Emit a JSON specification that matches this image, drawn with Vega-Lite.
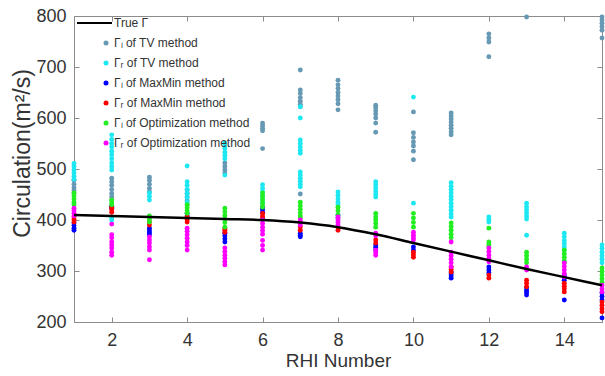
{
  "$schema": "https://vega.github.io/schema/vega-lite/v6.json",
  "width": 528,
  "height": 306,
  "autosize": {"type": "none"},
  "padding": {"left": 74, "top": 16, "right": 3, "bottom": 54},
  "config": {
    "view": {"stroke": "#8c8c8c", "strokeWidth": 1},
    "font": "Liberation Sans",
    "axis": {"grid": false, "domainColor": "#8c8c8c", "tickColor": "#8c8c8c", "labelColor": "#333333", "titleColor": "#333333", "labelFont": "Liberation Sans", "titleFont": "Liberation Sans", "titleFontWeight": "normal"},
    "legend": {"orient": "none", "legendX": 26, "legendY": 1, "title": null, "padding": 0, "labelFontSize": 12, "labelFont": "Liberation Sans", "labelColor": "#333333", "rowPadding": 8, "symbolSize": 25, "labelOffset": 2, "symbolStrokeWidth": 0}
  },
  "resolve": {"axis": {"x": "independent", "y": "independent"}},
  "layer": [
    {
      "data": {"values": [
        {"x":1,"s":"TVL","v":478},{"x":1,"s":"TVL","v":470},{"x":1,"s":"TVL","v":463},{"x":1,"s":"TVL","v":458},{"x":1,"s":"TVL","v":453},
        {"x":2,"s":"TVL","v":482},{"x":2,"s":"TVL","v":475},{"x":2,"s":"TVL","v":468},{"x":2,"s":"TVL","v":460},{"x":2,"s":"TVL","v":452},{"x":2,"s":"TVL","v":445},{"x":2,"s":"TVL","v":439},
        {"x":3,"s":"TVL","v":484},{"x":3,"s":"TVL","v":478},{"x":3,"s":"TVL","v":470},{"x":3,"s":"TVL","v":462},{"x":3,"s":"TVL","v":455},
        {"x":4,"s":"TVL","v":459},{"x":4,"s":"TVL","v":452},{"x":4,"s":"TVL","v":445},{"x":4,"s":"TVL","v":438},{"x":4,"s":"TVL","v":430},
        {"x":5,"s":"TVL","v":512},{"x":5,"s":"TVL","v":505},{"x":5,"s":"TVL","v":498},{"x":5,"s":"TVL","v":492},
        {"x":6,"s":"TVL","v":590},{"x":6,"s":"TVL","v":585},{"x":6,"s":"TVL","v":580},{"x":6,"s":"TVL","v":575},{"x":6,"s":"TVL","v":540},
        {"x":7,"s":"TVL","v":694},{"x":7,"s":"TVL","v":655},{"x":7,"s":"TVL","v":648},{"x":7,"s":"TVL","v":640},{"x":7,"s":"TVL","v":633},{"x":7,"s":"TVL","v":627},{"x":7,"s":"TVL","v":622},{"x":7,"s":"TVL","v":451},
        {"x":8,"s":"TVL","v":674},{"x":8,"s":"TVL","v":665},{"x":8,"s":"TVL","v":658},{"x":8,"s":"TVL","v":650},{"x":8,"s":"TVL","v":643},{"x":8,"s":"TVL","v":636},{"x":8,"s":"TVL","v":628},{"x":8,"s":"TVL","v":616},
        {"x":9,"s":"TVL","v":625},{"x":9,"s":"TVL","v":620},{"x":9,"s":"TVL","v":614},{"x":9,"s":"TVL","v":608},{"x":9,"s":"TVL","v":600},{"x":9,"s":"TVL","v":590},{"x":9,"s":"TVL","v":572},
        {"x":10,"s":"TVL","v":612},{"x":10,"s":"TVL","v":571},{"x":10,"s":"TVL","v":562},{"x":10,"s":"TVL","v":553},{"x":10,"s":"TVL","v":545},{"x":10,"s":"TVL","v":535},{"x":10,"s":"TVL","v":518},
        {"x":11,"s":"TVL","v":610},{"x":11,"s":"TVL","v":604},{"x":11,"s":"TVL","v":598},{"x":11,"s":"TVL","v":592},{"x":11,"s":"TVL","v":586},{"x":11,"s":"TVL","v":580},{"x":11,"s":"TVL","v":573},{"x":11,"s":"TVL","v":567},
        {"x":12,"s":"TVL","v":765},{"x":12,"s":"TVL","v":757},{"x":12,"s":"TVL","v":749},{"x":12,"s":"TVL","v":720},
        {"x":13,"s":"TVL","v":798},
        {"x":15,"s":"TVL","v":798},{"x":15,"s":"TVL","v":792},{"x":15,"s":"TVL","v":786},{"x":15,"s":"TVL","v":779},{"x":15,"s":"TVL","v":772},{"x":15,"s":"TVL","v":757},

        {"x":1,"s":"TVR","v":511},{"x":1,"s":"TVR","v":505},{"x":1,"s":"TVR","v":498},{"x":1,"s":"TVR","v":492},{"x":1,"s":"TVR","v":486},{"x":1,"s":"TVR","v":480},
        {"x":2,"s":"TVR","v":567},{"x":2,"s":"TVR","v":558},{"x":2,"s":"TVR","v":550},{"x":2,"s":"TVR","v":543},{"x":2,"s":"TVR","v":535},{"x":2,"s":"TVR","v":528},{"x":2,"s":"TVR","v":520},{"x":2,"s":"TVR","v":512},{"x":2,"s":"TVR","v":505},{"x":2,"s":"TVR","v":498},{"x":2,"s":"TVR","v":405},{"x":2,"s":"TVR","v":400},
        {"x":3,"s":"TVR","v":453},{"x":3,"s":"TVR","v":446},{"x":3,"s":"TVR","v":439},
        {"x":4,"s":"TVR","v":506},{"x":4,"s":"TVR","v":475},{"x":4,"s":"TVR","v":468},{"x":4,"s":"TVR","v":460},{"x":4,"s":"TVR","v":452},{"x":4,"s":"TVR","v":444},{"x":4,"s":"TVR","v":435},
        {"x":5,"s":"TVR","v":551},{"x":5,"s":"TVR","v":545},{"x":5,"s":"TVR","v":540},{"x":5,"s":"TVR","v":533},{"x":5,"s":"TVR","v":527},{"x":5,"s":"TVR","v":520},{"x":5,"s":"TVR","v":488},
        {"x":6,"s":"TVR","v":469},{"x":6,"s":"TVR","v":462},{"x":6,"s":"TVR","v":455},{"x":6,"s":"TVR","v":448},{"x":6,"s":"TVR","v":441},{"x":6,"s":"TVR","v":435},
        {"x":7,"s":"TVR","v":622},{"x":7,"s":"TVR","v":600},{"x":7,"s":"TVR","v":557},{"x":7,"s":"TVR","v":550},{"x":7,"s":"TVR","v":543},{"x":7,"s":"TVR","v":537},{"x":7,"s":"TVR","v":531},{"x":7,"s":"TVR","v":494},{"x":7,"s":"TVR","v":488},{"x":7,"s":"TVR","v":482},{"x":7,"s":"TVR","v":476},{"x":7,"s":"TVR","v":470},{"x":7,"s":"TVR","v":465},
        {"x":8,"s":"TVR","v":455},{"x":8,"s":"TVR","v":448},{"x":8,"s":"TVR","v":441},{"x":8,"s":"TVR","v":435},{"x":8,"s":"TVR","v":430},
        {"x":9,"s":"TVR","v":475},{"x":9,"s":"TVR","v":469},{"x":9,"s":"TVR","v":463},{"x":9,"s":"TVR","v":457},{"x":9,"s":"TVR","v":451},{"x":9,"s":"TVR","v":445},
        {"x":10,"s":"TVR","v":641},{"x":10,"s":"TVR","v":433},
        {"x":11,"s":"TVR","v":473},{"x":11,"s":"TVR","v":466},{"x":11,"s":"TVR","v":460},{"x":11,"s":"TVR","v":453},{"x":11,"s":"TVR","v":446},{"x":11,"s":"TVR","v":440},{"x":11,"s":"TVR","v":433},{"x":11,"s":"TVR","v":426},{"x":11,"s":"TVR","v":419},{"x":11,"s":"TVR","v":412},{"x":11,"s":"TVR","v":406},
        {"x":12,"s":"TVR","v":406},{"x":12,"s":"TVR","v":401},{"x":12,"s":"TVR","v":396},
        {"x":13,"s":"TVR","v":433},{"x":13,"s":"TVR","v":426},{"x":13,"s":"TVR","v":420},{"x":13,"s":"TVR","v":414},{"x":13,"s":"TVR","v":408},{"x":13,"s":"TVR","v":402},{"x":13,"s":"TVR","v":370},
        {"x":14,"s":"TVR","v":374},{"x":14,"s":"TVR","v":367},{"x":14,"s":"TVR","v":360},{"x":14,"s":"TVR","v":354},{"x":14,"s":"TVR","v":347},{"x":14,"s":"TVR","v":341},
        {"x":15,"s":"TVR","v":351},{"x":15,"s":"TVR","v":344},{"x":15,"s":"TVR","v":337},{"x":15,"s":"TVR","v":330},{"x":15,"s":"TVR","v":323},{"x":15,"s":"TVR","v":316},

        {"x":1,"s":"MML","v":394},{"x":1,"s":"MML","v":389},{"x":1,"s":"MML","v":384},{"x":1,"s":"MML","v":380},
        {"x":2,"s":"MML","v":427},{"x":2,"s":"MML","v":423},
        {"x":3,"s":"MML","v":384},{"x":3,"s":"MML","v":379},{"x":3,"s":"MML","v":375},{"x":3,"s":"MML","v":371},
        {"x":4,"s":"MML","v":413},{"x":4,"s":"MML","v":408},
        {"x":5,"s":"MML","v":374},{"x":5,"s":"MML","v":369},{"x":5,"s":"MML","v":363},{"x":5,"s":"MML","v":357},
        {"x":6,"s":"MML","v":425},{"x":6,"s":"MML","v":420},{"x":6,"s":"MML","v":415},
        {"x":7,"s":"MML","v":374},{"x":7,"s":"MML","v":370},{"x":7,"s":"MML","v":367},
        {"x":8,"s":"MML","v":410},{"x":8,"s":"MML","v":404},
        {"x":9,"s":"MML","v":351},{"x":9,"s":"MML","v":346},{"x":9,"s":"MML","v":341},
        {"x":10,"s":"MML","v":347},{"x":10,"s":"MML","v":341},
        {"x":11,"s":"MML","v":298},{"x":11,"s":"MML","v":294},{"x":11,"s":"MML","v":290},{"x":11,"s":"MML","v":286},
        {"x":12,"s":"MML","v":308},{"x":12,"s":"MML","v":302},{"x":12,"s":"MML","v":296},
        {"x":13,"s":"MML","v":267},{"x":13,"s":"MML","v":262},{"x":13,"s":"MML","v":258},{"x":13,"s":"MML","v":253},
        {"x":14,"s":"MML","v":292},{"x":14,"s":"MML","v":287},{"x":14,"s":"MML","v":282},{"x":14,"s":"MML","v":243},
        {"x":15,"s":"MML","v":257},{"x":15,"s":"MML","v":250},{"x":15,"s":"MML","v":243},{"x":15,"s":"MML","v":208},

        {"x":1,"s":"MMR","v":406},{"x":1,"s":"MMR","v":401},{"x":1,"s":"MMR","v":396},
        {"x":2,"s":"MMR","v":425},{"x":2,"s":"MMR","v":420},{"x":2,"s":"MMR","v":415},
        {"x":3,"s":"MMR","v":396},{"x":3,"s":"MMR","v":390},
        {"x":4,"s":"MMR","v":406},{"x":4,"s":"MMR","v":401},{"x":4,"s":"MMR","v":396},
        {"x":5,"s":"MMR","v":384},{"x":5,"s":"MMR","v":380},{"x":5,"s":"MMR","v":376},
        {"x":6,"s":"MMR","v":413},{"x":6,"s":"MMR","v":408},{"x":6,"s":"MMR","v":404},
        {"x":7,"s":"MMR","v":394},{"x":7,"s":"MMR","v":387},{"x":7,"s":"MMR","v":380},
        {"x":8,"s":"MMR","v":386},{"x":8,"s":"MMR","v":380},
        {"x":9,"s":"MMR","v":361},{"x":9,"s":"MMR","v":355},
        {"x":10,"s":"MMR","v":337},{"x":10,"s":"MMR","v":332},{"x":10,"s":"MMR","v":327},
        {"x":11,"s":"MMR","v":308},{"x":11,"s":"MMR","v":303},{"x":11,"s":"MMR","v":298},
        {"x":12,"s":"MMR","v":292},{"x":12,"s":"MMR","v":286},
        {"x":13,"s":"MMR","v":282},{"x":13,"s":"MMR","v":276},{"x":13,"s":"MMR","v":269},
        {"x":14,"s":"MMR","v":276},{"x":14,"s":"MMR","v":270},{"x":14,"s":"MMR","v":265},{"x":14,"s":"MMR","v":259},
        {"x":15,"s":"MMR","v":239},{"x":15,"s":"MMR","v":233},{"x":15,"s":"MMR","v":226},{"x":15,"s":"MMR","v":220},

        {"x":1,"s":"OL","v":453},{"x":1,"s":"OL","v":447},{"x":1,"s":"OL","v":441},{"x":1,"s":"OL","v":435},{"x":1,"s":"OL","v":430},
        {"x":2,"s":"OL","v":439},{"x":2,"s":"OL","v":434},{"x":2,"s":"OL","v":430},
        {"x":3,"s":"OL","v":408},{"x":3,"s":"OL","v":402},{"x":3,"s":"OL","v":396},
        {"x":4,"s":"OL","v":430},{"x":4,"s":"OL","v":424},{"x":4,"s":"OL","v":418},{"x":4,"s":"OL","v":413},
        {"x":5,"s":"OL","v":423},{"x":5,"s":"OL","v":416},{"x":5,"s":"OL","v":409},{"x":5,"s":"OL","v":402},{"x":5,"s":"OL","v":395},{"x":5,"s":"OL","v":386},
        {"x":6,"s":"OL","v":453},{"x":6,"s":"OL","v":446},{"x":6,"s":"OL","v":439},{"x":6,"s":"OL","v":432},{"x":6,"s":"OL","v":425},
        {"x":7,"s":"OL","v":435},{"x":7,"s":"OL","v":428},{"x":7,"s":"OL","v":421},{"x":7,"s":"OL","v":414},{"x":7,"s":"OL","v":408},{"x":7,"s":"OL","v":404},
        {"x":8,"s":"OL","v":425},{"x":8,"s":"OL","v":418},{"x":8,"s":"OL","v":410},
        {"x":9,"s":"OL","v":413},{"x":9,"s":"OL","v":406},{"x":9,"s":"OL","v":400},{"x":9,"s":"OL","v":393},{"x":9,"s":"OL","v":386},
        {"x":10,"s":"OL","v":413},{"x":10,"s":"OL","v":404},{"x":10,"s":"OL","v":395},{"x":10,"s":"OL","v":386},
        {"x":11,"s":"OL","v":394},{"x":11,"s":"OL","v":387},{"x":11,"s":"OL","v":380},{"x":11,"s":"OL","v":372},{"x":11,"s":"OL","v":365},
        {"x":12,"s":"OL","v":384},{"x":12,"s":"OL","v":357},{"x":12,"s":"OL","v":352},{"x":12,"s":"OL","v":347},
        {"x":13,"s":"OL","v":337},{"x":13,"s":"OL","v":330},{"x":13,"s":"OL","v":323},{"x":13,"s":"OL","v":316},
        {"x":14,"s":"OL","v":341},{"x":14,"s":"OL","v":334},{"x":14,"s":"OL","v":327},{"x":14,"s":"OL","v":320},{"x":14,"s":"OL","v":316},
        {"x":15,"s":"OL","v":306},{"x":15,"s":"OL","v":299},{"x":15,"s":"OL","v":292},{"x":15,"s":"OL","v":285},{"x":15,"s":"OL","v":278},

        {"x":1,"s":"OR","v":423},{"x":1,"s":"OR","v":418},{"x":1,"s":"OR","v":413},{"x":1,"s":"OR","v":408},
        {"x":2,"s":"OR","v":392},{"x":2,"s":"OR","v":371},{"x":2,"s":"OR","v":365},{"x":2,"s":"OR","v":357},{"x":2,"s":"OR","v":351},{"x":2,"s":"OR","v":345},{"x":2,"s":"OR","v":337},{"x":2,"s":"OR","v":331},
        {"x":3,"s":"OR","v":367},{"x":3,"s":"OR","v":361},{"x":3,"s":"OR","v":355},{"x":3,"s":"OR","v":347},{"x":3,"s":"OR","v":341},{"x":3,"s":"OR","v":322},
        {"x":4,"s":"OR","v":384},{"x":4,"s":"OR","v":378},{"x":4,"s":"OR","v":371},{"x":4,"s":"OR","v":364},{"x":4,"s":"OR","v":357},{"x":4,"s":"OR","v":350},{"x":4,"s":"OR","v":341},
        {"x":5,"s":"OR","v":345},{"x":5,"s":"OR","v":338},{"x":5,"s":"OR","v":331},{"x":5,"s":"OR","v":325},{"x":5,"s":"OR","v":318},{"x":5,"s":"OR","v":312},
        {"x":6,"s":"OR","v":400},{"x":6,"s":"OR","v":393},{"x":6,"s":"OR","v":386},{"x":6,"s":"OR","v":379},{"x":6,"s":"OR","v":372},{"x":6,"s":"OR","v":360},{"x":6,"s":"OR","v":350},{"x":6,"s":"OR","v":341},
        {"x":7,"s":"OR","v":400},{"x":7,"s":"OR","v":395},{"x":7,"s":"OR","v":390},
        {"x":8,"s":"OR","v":406},{"x":8,"s":"OR","v":400},{"x":8,"s":"OR","v":395},{"x":8,"s":"OR","v":390},
        {"x":9,"s":"OR","v":374},{"x":9,"s":"OR","v":369},{"x":9,"s":"OR","v":341},{"x":9,"s":"OR","v":336},{"x":9,"s":"OR","v":331},
        {"x":10,"s":"OR","v":376},{"x":10,"s":"OR","v":370},{"x":10,"s":"OR","v":365},{"x":10,"s":"OR","v":361},
        {"x":11,"s":"OR","v":357},{"x":11,"s":"OR","v":337},{"x":11,"s":"OR","v":330},{"x":11,"s":"OR","v":323},{"x":11,"s":"OR","v":316},{"x":11,"s":"OR","v":308},
        {"x":12,"s":"OR","v":345},{"x":12,"s":"OR","v":338},{"x":12,"s":"OR","v":331},{"x":12,"s":"OR","v":324},{"x":12,"s":"OR","v":318},
        {"x":13,"s":"OR","v":308},{"x":13,"s":"OR","v":302},
        {"x":14,"s":"OR","v":316},{"x":14,"s":"OR","v":309},{"x":14,"s":"OR","v":302},{"x":14,"s":"OR","v":295},{"x":14,"s":"OR","v":288},
        {"x":15,"s":"OR","v":272},{"x":15,"s":"OR","v":265},{"x":15,"s":"OR","v":259}
      ]},
      "mark": {"type": "point", "filled": true, "size": 24, "opacity": 1},
      "encoding": {
        "x": {"field": "x", "type": "quantitative", "scale": {"domain": [1, 15], "nice": false, "zero": false},
          "axis": {"orient": "bottom", "values": [2, 4, 6, 8, 10, 12, 14], "ticks": false, "labelPadding": 9, "labelFontSize": 18, "title": "RHI Number", "titleFontSize": 19, "titlePadding": 2}},
        "y": {"field": "v", "type": "quantitative", "scale": {"domain": [200, 800], "nice": false, "zero": false},
          "axis": {"orient": "left", "values": [200, 300, 400, 500, 600, 700, 800], "ticks": false, "labelPadding": 8, "labelFontSize": 18, "title": "Circulation(m²/s)", "titleFontSize": 23, "titleX": -40, "titleY": 137, "titleAngle": -90, "titleAlign": "center", "titleBaseline": "bottom"}},
        "color": {"field": "s", "type": "nominal",
          "scale": {"domain": ["T", "TVL", "TVR", "MML", "MMR", "OL", "OR"], "range": ["#000000", "#6699b3", "#1de8f2", "#0000ff", "#ff0000", "#22ee22", "#ff00ff"]},
          "legend": {
            "labelExpr": "datum.label === 'T' ? 'True Γ' : datum.label === 'TVL' ? 'Γₗ of TV method' : datum.label === 'TVR' ? 'Γᵣ of TV method' : datum.label === 'MML' ? 'Γₗ of MaxMin method' : datum.label === 'MMR' ? 'Γᵣ of MaxMin method' : datum.label === 'OL' ? 'Γₗ of Optimization method' : 'Γᵣ of Optimization method'"
          }},
        "shape": {"field": "s", "type": "nominal",
          "scale": {"domain": ["T", "TVL", "TVR", "MML", "MMR", "OL", "OR"], "range": ["M-11.6,-0.4L2.4,-0.4L2.4,0.4L-11.6,0.4Z", "circle", "circle", "circle", "circle", "circle", "circle"]},
          "legend": {
            "labelExpr": "datum.label === 'T' ? 'True Γ' : datum.label === 'TVL' ? 'Γₗ of TV method' : datum.label === 'TVR' ? 'Γᵣ of TV method' : datum.label === 'MML' ? 'Γₗ of MaxMin method' : datum.label === 'MMR' ? 'Γᵣ of MaxMin method' : datum.label === 'OL' ? 'Γₗ of Optimization method' : 'Γᵣ of Optimization method'"
          }}
      }
    },
    {
      "data": {"values": [
        {"x":1,"s":"T","v":410},{"x":2,"s":"T","v":408},{"x":3,"s":"T","v":406},{"x":4,"s":"T","v":404},{"x":5,"s":"T","v":402},
        {"x":6,"s":"T","v":400},{"x":7,"s":"T","v":395},{"x":8,"s":"T","v":386},{"x":9,"s":"T","v":372},{"x":10,"s":"T","v":355},
        {"x":11,"s":"T","v":338},{"x":12,"s":"T","v":321},{"x":13,"s":"T","v":304},{"x":14,"s":"T","v":288},{"x":15,"s":"T","v":272}
      ]},
      "mark": {"type": "line", "strokeWidth": 2.5, "interpolate": "monotone"},
      "encoding": {
        "x": {"field": "x", "type": "quantitative", "axis": {"orient": "bottom", "offset": -5, "values": [2, 4, 6, 8, 10, 12, 14], "domain": false, "labels": false, "tickSize": 5, "title": null}},
        "y": {"field": "v", "type": "quantitative", "axis": {"orient": "left", "offset": -5, "values": [200, 300, 400, 500, 600, 700, 800], "domain": false, "labels": false, "tickSize": 5, "title": null}},
        "color": {"field": "s", "type": "nominal"}
      }
    },
    {
      "data": {"values": [
        {"x":1,"v":410},{"x":15,"v":272}
      ]},
      "mark": {"type": "point", "opacity": 0},
      "encoding": {
        "x": {"field": "x", "type": "quantitative", "axis": {"orient": "top", "offset": -5, "values": [2, 4, 6, 8, 10, 12, 14], "domain": false, "labels": false, "tickSize": 5, "title": null}},
        "y": {"field": "v", "type": "quantitative", "axis": {"orient": "right", "offset": -5, "values": [200, 300, 400, 500, 600, 700, 800], "domain": false, "labels": false, "tickSize": 5, "title": null}}
      }
    }
  ]
}
